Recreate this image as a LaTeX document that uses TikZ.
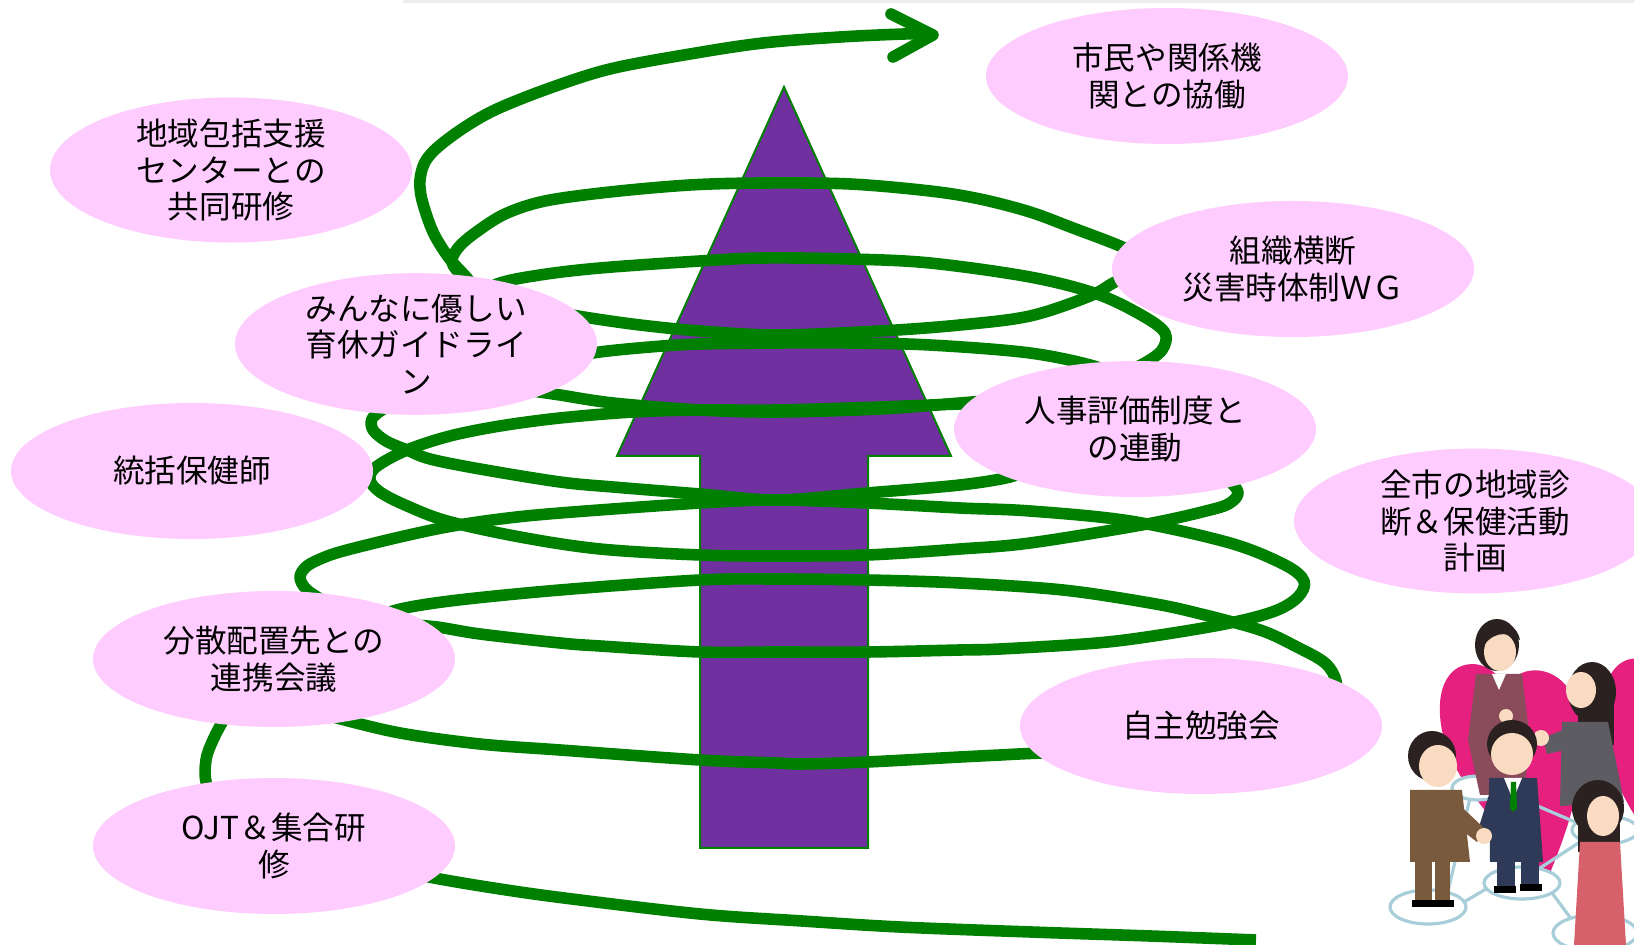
\documentclass[tikz,border=0pt]{standalone}
\usepackage{fontspec}
\setmainfont{Noto Sans CJK JP}
\usetikzlibrary{shapes.geometric}

\definecolor{bubblepink}{HTML}{FFCCFF}
\definecolor{coilgreen}{HTML}{008000}
\definecolor{risepurple}{HTML}{7030A0}
\definecolor{heartpink}{HTML}{E5207F}
\definecolor{netblue}{HTML}{A8CEDA}
\definecolor{skin}{HTML}{F8DBC0}
\definecolor{hairdark}{HTML}{2A2120}
\definecolor{suitmaroon}{HTML}{8A4B5B}
\definecolor{suitgray}{HTML}{5C5C62}
\definecolor{suitbrown}{HTML}{7A5A3C}
\definecolor{suitnavy}{HTML}{2E3A57}
\definecolor{dressred}{HTML}{D6616B}

\begin{document}
\begin{tikzpicture}[x=0.5pt, y=-0.5pt,
  bubble/.style={ellipse, fill=bubblepink, minimum width=181pt, minimum height=68pt,
                 inner sep=0pt, align=center, font=\fontsize{15.8pt}{18.3pt}\selectfont},
  coil/.style={draw=coilgreen, line width=5.8pt, line cap=round, line join=round}]

\useasboundingbox (0,0) rectangle (1634,945);
\fill[white] (0,0) rectangle (1634,945);
\fill[black!7] (403,0) rectangle (1634,3);

% rising arrow
\draw[draw=coilgreen, line width=1pt, fill=risepurple, line join=miter]
  (784,87) -- (951,456) -- (868,456) -- (868,848) -- (700,848) -- (700,456) -- (617,456) -- cycle;

% the coil, bottom to top
\draw[coil, line cap=butt] plot[smooth, tension=0.55] coordinates {
  (1256,940) (1150,936) (1031,932) (900,927) (802,921) (700,914) (572,899) (500,889)
  (429,877) (350,860) (270,835) (225,810) (207,785) (206,760) (213,740) (225,718) (240,702)};
\draw[coil] plot[smooth, tension=0.55] coordinates {
  (368,625) (393,611) (450,601) (560,590) (700,580) (777,579) (867,580) (960,583)
  (1063,590) (1150,603) (1197,613) (1260,630) (1297,647) (1325,663) (1336,681)
  (1334,702) (1310,725) (1250,742) (1150,750) (1043,753) (1000,755) (960,757)
  (867,762) (802,764) (777,763) (700,760) (560,750) (480,744) (400,733) (337,718) (318,712)};
\draw[coil] plot[smooth, tension=0.55] coordinates {
  (322,600) (306,589) (300,577) (307,566) (325,557) (347,550) (400,537) (447,527)
  (500,519) (560,513) (700,503) (777,500) (867,503) (960,508) (1030,511) (1130,521)
  (1230,543) (1285,565) (1304,581) (1298,597) (1275,611) (1230,623) (1160,635)
  (1097,643) (1000,649) (960,650) (867,652) (777,652) (700,652) (600,646) (560,643)
  (480,634) (437,627) (400,624)};
\draw[coil] plot[smooth, tension=0.55] coordinates {
  (1195,462) (1225,478) (1238,492) (1230,503) (1210,510) (1147,524) (1030,543)
  (960,549) (867,555) (777,556) (700,555) (600,549) (520,537) (447,521) (405,505)
  (380,492) (370,480) (376,467) (407,450) (450,436) (500,426) (560,418) (633,412)
  (700,410) (777,410) (880,407) (960,404) (1000,404)};
\draw[coil] plot[smooth, tension=0.55] coordinates {
  (1030,468) (1010,477) (960,485) (867,493) (777,500) (700,494) (613,487) (560,482)
  (480,469) (430,459) (407,450) (386,441) (373,430) (372,419) (382,410) (398,402)};
\draw[coil] plot[smooth, tension=0.55] coordinates {
  (995,400) (960,403) (880,409) (777,412) (700,410) (613,403) (560,395) (533,391) (505,386)};
\draw[coil] plot[smooth, tension=0.55] coordinates {
  (560,362) (593,353) (650,347) (700,344) (777,343) (850,343) (930,345) (1030,353)
  (1097,367) (1125,382)};
\draw[coil] plot[smooth, tension=0.55] coordinates {
  (468,302) (497,284) (540,275) (600,268) (700,261) (763,258) (850,259) (930,263)
  (1030,277) (1097,294) (1143,316) (1165,333) (1162,350) (1143,364) (1112,378)};
\draw[coil] plot[smooth, tension=0.55] coordinates {
  (484,296) (462,276) (452,262) (458,248) (475,233) (505,214) (545,201) (610,192)
  (690,185) (763,183) (850,184) (930,191) (980,199) (1030,212) (1073,228) (1120,246)
  (1147,260) (1138,274) (1115,282) (1090,296) (1030,316) (960,325) (880,331)
  (777,335) (700,331) (640,325) (590,318) (555,312)};
\draw[coil] plot[smooth, tension=0.55] coordinates {
  (482,298) (467,278) (449,258) (433,232) (422,200) (420,180) (425,162) (438,147)
  (465,127) (497,109) (550,88) (610,69) (690,54) (763,43) (840,37) (904,34) (928,34)};
\draw[coil] (891,14) -- (933,35) -- (893,57);

% bubbles
\node[bubble] (kyodo)   at (1167,76)  {市民や関係機\\関との協働};
\node[bubble] (houkatsu) at (231,170) {地域包括支援\\センターとの\\共同研修};
\node[bubble] (soshiki) at (1293,269) {組織横断\\災害時体制ＷＧ};
\node[bubble] (ikukyu)  at (416,344)  {みんなに優しい\\育休ガイドライ\\ン};
\node[bubble] (tokatsu) at (192,471)  {統括保健師};
\node[bubble] (jinji)   at (1135,429) {人事評価制度と\\の連動};
\node[bubble] (zenshi)  at (1475,521) {全市の地域診\\断＆保健活動\\計画};
\node[bubble] (bunsan)  at (274,659)  {分散配置先との\\連携会議};
\node[bubble] (jishu)   at (1201,726) {自主勉強会};
\node[bubble] (ojt)     at (274,846)  {OJT＆集合研\\修};

% people linking hands
\begin{scope}
\clip (1380,600) rectangle (1634,945);
% hearts
\fill[heartpink] (1506,690) .. controls (1492,652) and (1436,652) .. (1440,715)
  .. controls (1444,785) and (1515,835) .. (1545,885)
  .. controls (1568,830) and (1590,770) .. (1578,712)
  .. controls (1568,662) and (1516,660) .. (1506,690) -- cycle;
\fill[heartpink] (1672,690) .. controls (1655,645) and (1602,645) .. (1603,712)
  .. controls (1604,790) and (1650,840) .. (1690,885) -- (1700,700) -- cycle;
% network
\begin{scope}[draw=netblue, line width=1.6pt]
\draw (1448,891) -- (1470,798);
\draw (1464,902) -- (1486,889);
\draw (1540,868) -- (1580,842);
\draw (1552,893) -- (1572,920);
\draw (1500,790) -- (1575,822);
\filldraw[fill=white] (1478,788) ellipse (26 and 12);
\filldraw[fill=white] (1605,830) ellipse (33 and 14);
\filldraw[fill=white] (1428,907) ellipse (38 and 17);
\filldraw[fill=white] (1522,883) ellipse (38 and 16);
\filldraw[fill=white] (1595,933) ellipse (42 and 18);
\end{scope}
% woman at the back, maroon suit
\fill[suitmaroon] (1476,674) -- (1522,674) -- (1530,740) -- (1524,795) -- (1480,795) -- (1468,740) -- cycle;
\fill[white] (1492,674) -- (1506,674) -- (1499,690) -- cycle;
\fill[hairdark] (1497,645) ellipse (22 and 26);
\fill[skin] (1500,652) ellipse (16 and 19);
\fill[hairdark] (1478,645) .. controls (1482,618) and (1515,615) .. (1520,640)
  .. controls (1505,630) and (1490,632) .. (1480,652) -- cycle;
\fill[skin] (1506,716) circle (7);
% woman on the right, gray suit
\fill[hairdark] (1592,692) ellipse (24 and 30);
\fill[hairdark] (1578,700) rectangle (1614,745);
\fill[suitgray] (1562,722) -- (1608,722) -- (1624,802) -- (1560,806) -- cycle;
\fill[suitgray] (1568,728) -- (1543,738) -- (1547,754) -- (1574,748) -- cycle;
\fill[skin] (1581,690) ellipse (15 and 18);
\fill[skin] (1541,738) circle (8);
% man in the middle, navy suit
\fill[suitnavy] (1497,858) rectangle (1515,890);
\fill[suitnavy] (1521,858) rectangle (1539,888);
\fill[black] (1494,886) rectangle (1516,893);
\fill[black] (1520,884) rectangle (1542,891);
\fill[suitnavy] (1489,778) -- (1537,778) -- (1543,862) -- (1490,862) -- cycle;
\fill[white] (1504,778) -- (1522,778) -- (1513,800) -- cycle;
\fill[green!50!black] (1511,782) -- (1516,782) -- (1517,808) -- (1513,812) -- (1510,808) -- cycle;
\fill[suitnavy] (1492,785) -- (1478,830) -- (1490,836) -- (1502,795) -- cycle;
\fill[hairdark] (1512,744) ellipse (25 and 24);
\fill[skin] (1512,754) ellipse (21 and 21);
% man on the left, brown suit
\fill[suitbrown] (1415,858) rectangle (1432,903);
\fill[suitbrown] (1435,858) rectangle (1450,903);
\fill[black] (1412,900) rectangle (1434,907);
\fill[black] (1433,900) rectangle (1454,907);
\fill[suitbrown] (1410,790) -- (1462,790) -- (1470,862) -- (1410,862) -- cycle;
\fill[suitbrown] (1452,798) -- (1484,828) -- (1477,842) -- (1446,818) -- cycle;
\fill[skin] (1484,836) circle (8);
\fill[hairdark] (1432,756) ellipse (24 and 25);
\fill[skin] (1438,766) ellipse (19 and 21);
% woman in front, red dress
\fill[hairdark] (1598,808) ellipse (26 and 28);
\fill[hairdark] (1578,808) rectangle (1620,852);
\fill[dressred] (1580,842) -- (1620,842) -- (1626,945) -- (1574,945) -- cycle;
\fill[skin] (1603,816) ellipse (16 and 20);
\end{scope}
\end{tikzpicture}
\end{document}
